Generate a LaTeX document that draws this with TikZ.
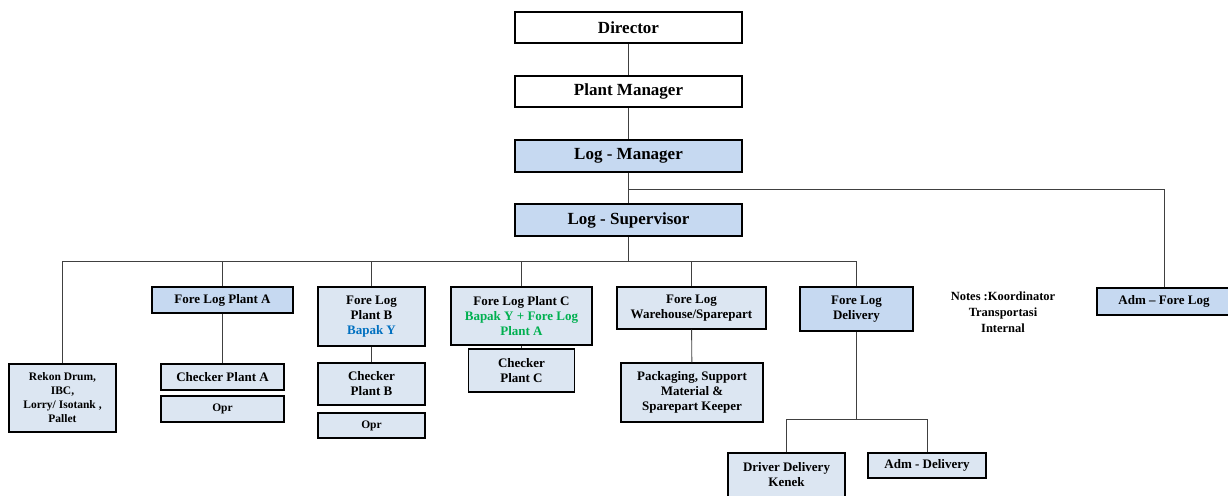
\documentclass[tikz,border=0pt]{standalone}
\usepackage{fontspec}
\setmainfont{Liberation Serif}
\usetikzlibrary{positioning}
\definecolor{midblue}{HTML}{C6D9F1}
\definecolor{paleblue}{HTML}{DCE6F2}
\definecolor{linkgray}{HTML}{404040}
\definecolor{txtblue}{HTML}{0070C0}
\definecolor{txtgreen}{HTML}{00B050}
\tikzstyle{unit}=[rectangle,draw=black,line width=1.1pt,inner sep=2pt,align=center,
  font=\bfseries\fontsize{13}{15}\selectfont]
\tikzstyle{head}=[unit,fill=white,font=\bfseries\fontsize{17}{19}\selectfont]
\tikzstyle{logbox}=[head,fill=midblue]
\tikzstyle{lead}=[unit,fill=midblue]
\tikzstyle{staff}=[unit,fill=paleblue]
\tikzstyle{small}=[font=\bfseries\fontsize{11.5}{14}\selectfont]
\tikzstyle{link}=[draw=linkgray,line width=0.9pt]

\begin{document}
\begin{tikzpicture}[x=1pt,y=-1pt]
    \useasboundingbox (0,0) rectangle (1228,495);

    % top of the chart
    \node[head, minimum width=227, minimum height=31] (director) at (628.5,27.5) {Director};
    \node[head, minimum width=227, minimum height=31] (plantman) at (628.5,91.5) {Plant Manager};
    \node[logbox, minimum width=227, minimum height=32] (logman) at (628.5,156) {Log - Manager};
    \node[logbox, minimum width=227, minimum height=32] (logsup) at (628.5,220) {Log - Supervisor};
    \node[lead, minimum width=134, minimum height=27] (admfore) at (1164,301.5) {Adm -- Fore Log};

    % foremen
    \node[staff, small, minimum width=107, minimum height=68] (rekon) at (62.5,398)
        {Rekon Drum,\\IBC,\\Lorry/ Isotank ,\\Pallet};
    \node[lead, minimum width=141, minimum height=26] (plantA) at (222.5,300) {Fore Log Plant A};
    \node[staff, minimum width=107, minimum height=59] (plantB) at (371.5,316.5)
        {Fore Log\\Plant B\\\textcolor{txtblue}{Bapak Y}};
    \node[staff, minimum width=141, minimum height=58] (plantC) at (521.5,316)
        {Fore Log Plant C\\\textcolor{txtgreen}{Bapak Y + Fore Log}\\\textcolor{txtgreen}{Plant A}};
    \node[staff, minimum width=149, minimum height=42] (warehouse) at (691.5,308)
        {Fore Log\\Warehouse/Sparepart};
    \node[lead, minimum width=113, minimum height=44] (delivery) at (856.5,309) {Fore Log\\Delivery};

    % staff
    \node[staff, minimum width=123, minimum height=26] (checkA) at (222.5,377) {Checker Plant A};
    \node[staff, small, minimum width=123, minimum height=26] (oprA) at (222.5,409) {Opr};
    \node[staff, minimum width=107, minimum height=42] (checkB) at (371.5,384) {Checker\\Plant B};
    \node[staff, small, minimum width=107, minimum height=25] (oprB) at (371.5,425.5) {Opr};
    \node[staff, minimum width=106, minimum height=43] (checkC) at (521.5,370.5) {Checker\\Plant C};
    \node[staff, minimum width=142, minimum height=59] (packing) at (692,392.5)
        {Packaging, Support\\Material \&\\Sparepart Keeper};
    \node[staff, minimum width=117, minimum height=44] (driver) at (786.5,475) {Driver Delivery\\Kenek};
    \node[staff, minimum width=118, minimum height=25] (admdel) at (927,465.5) {Adm - Delivery};

    \node[align=center, font=\bfseries\fontsize{12.5}{16}\selectfont] (notes) at (1003,312)
        {Notes :Koordinator\\Transportasi\\Internal};

    % bus points
    \coordinate (mbranch) at (628.5,189);
    \coordinate (sbus) at (628.5,261);
    \coordinate (dbus) at (856.5,419);

    \draw[link] (director) -- (plantman);
    \draw[link] (plantman) -- (logman);
    \draw[link] (logman) -- (logsup);
    \draw[link] (admfore.north) |- (mbranch);
    \draw[link] (logsup) -- (sbus);
    \foreach \n in {rekon,plantA,plantB,plantC,warehouse,delivery}
        \draw[link] (\n.north) |- (sbus);
    \draw[link] (plantA) -- (checkA);
    \draw[link] (plantB) -- (checkB);
    \draw[link] (plantC) -- (checkC);
    \draw[link] (warehouse) -- (packing);
    \draw[link] (delivery) -- (dbus);
    \draw[link] (driver.north) |- (dbus);
    \draw[link] (admdel.north) |- (dbus);
\end{tikzpicture}
\end{document}
